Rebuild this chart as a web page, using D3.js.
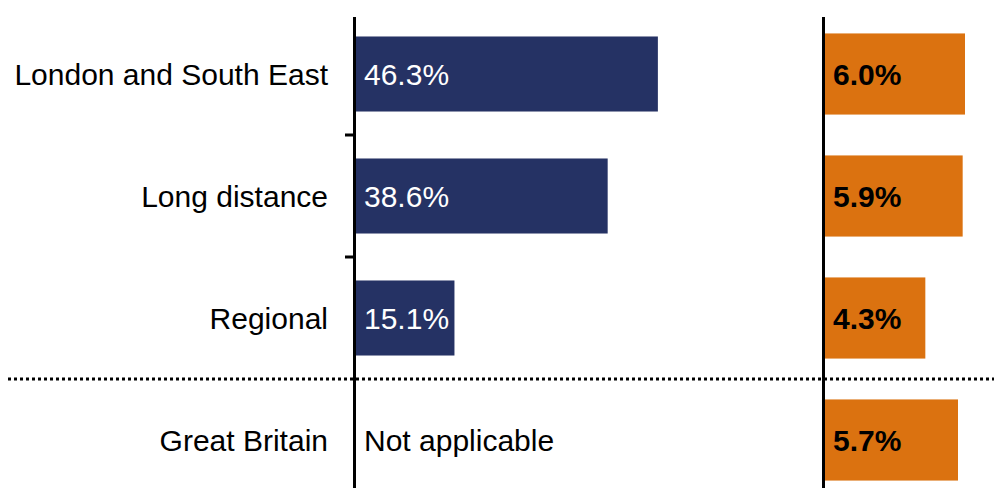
<!DOCTYPE html>
<html>
<head>
<meta charset="utf-8">
<script src="https://cdn.jsdelivr.net/npm/d3@7"></script>
<style>
  body { margin: 0; background: #fff; }
  svg text { font-family: "Liberation Sans", Arial, sans-serif; }
</style>
</head>
<body>
<svg id="chart"></svg>
<script>
// data
const categories = ['London and South East', 'Long distance', 'Regional', 'Great Britain'];
const shareValues = [46.3, 38.6, 15.1, null];        // navy bars (% share)
const changeValues = [6.0, 5.9, 4.3, 5.7];            // orange bars (% change)
const naLabel = 'Not applicable';

const width = 994, height = 488;
const fs = 30;

const svg = d3.select('#chart')
    .attr('width', width)
    .attr('height', height);

const y = d3.scaleBand()
    .domain(categories)
    .range([13, 501])
    .padding(0);

const xL = d3.scaleLinear().domain([0, 50]).range([356, 682]);
const xR = d3.scaleLinear().domain([0, 6]).range([825, 965]);

const navy = '#253264';
const orange = '#DB7210';

const bw = y.bandwidth();
const hL = bw * 0.615, hR = bw * 0.665;

// navy bars
const rowsL = categories.map((c, i) => ({c: c, v: shareValues[i]}));
svg.append('g').selectAll('rect')
    .data(rowsL.filter(d => d.v != null))
    .join('rect')
    .attr('x', xL(0))
    .attr('y', d => y(d.c) + (bw - hL) / 2)
    .attr('width', d => xL(d.v) - xL(0))
    .attr('height', hL)
    .attr('fill', navy);

svg.append('g').selectAll('text')
    .data(rowsL)
    .join('text')
    .attr('x', xL(0) + 8)
    .attr('y', d => y(d.c) + bw / 2)
    .attr('dy', '0.35em')
    .attr('font-size', fs)
    .attr('fill', d => d.v == null ? '#000' : '#fff')
    .text(d => d.v == null ? naLabel : d.v.toFixed(1) + '%');

// orange bars
const rowsR = categories.map((c, i) => ({c: c, v: changeValues[i]}));
svg.append('g').selectAll('rect')
    .data(rowsR)
    .join('rect')
    .attr('x', xR(0))
    .attr('y', d => y(d.c) + (bw - hR) / 2)
    .attr('width', d => xR(d.v) - xR(0))
    .attr('height', hR)
    .attr('fill', orange);

svg.append('g').selectAll('text')
    .data(rowsR)
    .join('text')
    .attr('x', xR(0) + 8)
    .attr('y', d => y(d.c) + bw / 2)
    .attr('dy', '0.35em')
    .attr('font-size', fs)
    .attr('font-weight', 'bold')
    .attr('fill', '#000')
    .text(d => d.v.toFixed(1) + '%');

// category labels
svg.append('g').selectAll('text')
    .data(categories)
    .join('text')
    .attr('x', 328)
    .attr('y', d => y(d) + bw / 2)
    .attr('dy', '0.35em')
    .attr('text-anchor', 'end')
    .attr('font-size', fs)
    .attr('fill', '#000')
    .text(d => d);

// dotted separator before Great Britain
svg.append('line')
    .attr('x1', 8).attr('x2', width)
    .attr('y1', y(categories[3])).attr('y2', y(categories[3]))
    .attr('stroke', '#000')
    .attr('stroke-width', 3)
    .attr('stroke-dasharray', '3,3');

// axes
[xL(0) - 1.5, xR(0) - 1.5].forEach(x => {
    svg.append('line')
        .attr('x1', x).attr('x2', x)
        .attr('y1', 17).attr('y2', height)
        .attr('stroke', '#000')
        .attr('stroke-width', 3);
});

svg.append('g').selectAll('line')
    .data(categories.slice(1, 3))
    .join('line')
    .attr('x1', 345).attr('x2', xL(0) - 1.5)
    .attr('y1', d => y(d)).attr('y2', d => y(d))
    .attr('stroke', '#000')
    .attr('stroke-width', 3);
</script>
</body>
</html>
